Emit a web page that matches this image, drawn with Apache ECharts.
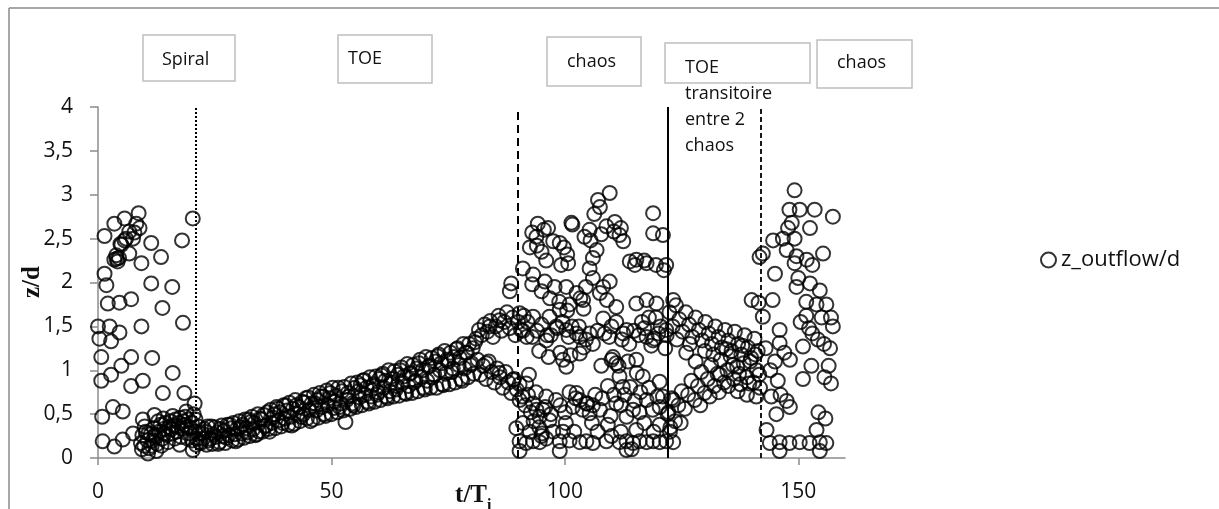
<!DOCTYPE html>
<html>
<head>
<meta charset="utf-8">
<script src="https://cdn.jsdelivr.net/npm/echarts@6.0.0/dist/echarts.min.js"></script>
<style>
  html, body { margin: 0; padding: 0; background: #fff; }
  #chart { width: 1219px; height: 509px; }
</style>
</head>
<body>
<div id="chart"></div>
<script>
// t/Ti , z/d
var spiralPts = [
  [8.7,2.79],[5.7,2.73],[3.5,2.67],[1.4,2.53],[8.2,2.67],[8.9,2.62],[6.7,2.58],[5.7,2.48],[7.5,2.5],[11.4,2.45],
  [5.0,2.43],[3.9,2.31],[3.5,2.26],[4.2,2.24],[4.5,2.28],[6.7,2.33],[9.3,2.22],[13.5,2.29],[18.0,2.48],[20.3,2.73],
  [4.0,2.27],[4.8,2.44],[6.0,2.5],[7.8,2.57],
  [1.4,2.1],[1.8,1.97],[11.4,1.99],[15.9,1.95],[7.1,1.81],[4.6,1.77],[2.1,1.76],[13.8,1.71],[18.2,1.54],[9.3,1.5],
  [0.0,1.5],[2.5,1.5],[4.6,1.43],[0.3,1.36],[2.8,1.33],[0.7,1.15],[7.1,1.15],[11.6,1.14],[5.0,1.05],[2.8,0.95],
  [0.7,0.88],[7.1,0.82],[9.6,0.88],[16.0,0.97],[13.9,0.74],[18.5,0.74],[3.2,0.58],[5.3,0.53],[0.9,0.47],[9.6,0.44],
  [12.1,0.49],[20.7,0.62],[1.0,0.19],[3.5,0.13],[5.3,0.21],[7.5,0.28],[10.7,0.05],[20.3,0.09],
  [9.2,0.17],[9.5,0.26],[9.9,0.14],[10.2,0.3],[10.6,0.2],[11.0,0.11],[11.3,0.27],[11.7,0.2],[12.0,0.34],[12.4,0.24],
  [12.7,0.16],[13.1,0.3],[13.4,0.38],[13.8,0.22],[14.1,0.33],[14.5,0.4],[14.8,0.26],[15.2,0.35],[15.5,0.42],[15.9,0.28],
  [16.2,0.37],[16.6,0.44],[16.9,0.3],[17.3,0.4],[17.6,0.46],[18.0,0.33],[18.3,0.42],[18.7,0.47],[19.0,0.35],[19.4,0.44],
  [19.7,0.28],[20.1,0.4],[20.5,0.5],[20.8,0.3],[21.2,0.22],[21.5,0.36],[21.8,0.18],
  [9.4,0.1],[10.0,0.36],[10.8,0.28],[11.5,0.14],[12.2,0.26],[12.9,0.42],[13.6,0.14],[14.3,0.28],[15.0,0.18],[15.7,0.33],
  [16.4,0.22],[17.1,0.36],[17.8,0.24],[18.5,0.38],[19.2,0.22],[19.9,0.34],[20.2,0.2],[20.9,0.44],[21.0,0.15],[21.6,0.28],
  [16.0,0.48],[18.9,0.53],[14.0,0.45],[12.5,0.08],[17.5,0.15]
];

var toeA = [
  [22,0.17],[23,0.30],[24,0.22],[25,0.35],[26,0.18],[27,0.31],[28,0.26],[29,0.40],[30,0.21],[31,0.38],
  [32,0.29],[33,0.47],[34,0.27],[35,0.44],[36,0.37],[37,0.55],[38,0.34],[39,0.52],[40,0.45],[41,0.63],
  [42,0.39],[43,0.58],[44,0.50],[45,0.69],[46,0.44],[47,0.66],[48,0.58],[49,0.77],[50,0.50],[51,0.71],
  [52,0.62],[53,0.41],[54,0.56],[55,0.80],[56,0.69],[57,0.89],[58,0.62],[59,0.84],[60,0.75],[61,0.96],
  [62,0.68],[63,0.90],[64,0.82],[65,1.03],[66,0.73],[67,0.97],[68,0.88],[69,1.12],[70,0.78],[71,1.05],
  [72,0.95],[73,1.18],[74,0.83],[75,1.10],[76,1.02],[77,1.25],[78,0.88],[79,1.20],[80,1.08]
];
var toeB = [
  [22.25,0.28],[23.25,0.15],[24.25,0.36],[25.25,0.24],[26.25,0.33],[27.25,0.17],[28.25,0.38],[29.25,0.27],[30.25,0.42],[31.25,0.23],
  [32.25,0.44],[33.25,0.33],[34.25,0.50],[35.25,0.30],[36.25,0.52],[37.25,0.40],[38.25,0.58],[39.25,0.36],[40.25,0.60],[41.25,0.47],
  [42.25,0.66],[43.25,0.42],[44.25,0.63],[45.25,0.55],[46.25,0.72],[47.25,0.46],[48.25,0.70],[49.25,0.60],[50.25,0.80],[51.25,0.52],
  [52.25,0.76],[53.25,0.66],[54.25,0.85],[55.25,0.58],[56.25,0.83],[57.25,0.72],[58.25,0.92],[59.25,0.64],[60.25,0.90],[61.25,0.80],
  [62.25,1.00],[63.25,0.70],[64.25,0.95],[65.25,0.86],[66.25,1.07],[67.25,0.74],[68.25,1.02],[69.25,0.92],[70.25,1.15],[71.25,0.80],
  [72.25,1.10],[73.25,1.00],[74.25,1.22],[75.25,0.84],[76.25,1.15],[77.25,1.06],[78.25,1.30],[79.25,0.92],[80.25,1.25]
];
var toeC = [
  [22.5,0.22],[23.5,0.36],[24.5,0.16],[25.5,0.29],[26.5,0.37],[27.5,0.23],[28.5,0.34],[29.5,0.19],[30.5,0.35],[31.5,0.44],
  [32.5,0.25],[33.5,0.40],[34.5,0.30],[35.5,0.49],[36.5,0.33],[37.5,0.46],[38.5,0.56],[39.5,0.40],[40.5,0.54],[41.5,0.37],
  [42.5,0.60],[43.5,0.47],[44.5,0.68],[45.5,0.42],[46.5,0.62],[47.5,0.74],[48.5,0.50],[49.5,0.68],[50.5,0.57],[51.5,0.80],
  [52.5,0.54],[53.5,0.74],[54.5,0.62],[55.5,0.86],[56.5,0.60],[57.5,0.80],[58.5,0.70],[59.5,0.93],[60.5,0.66],[61.5,0.88],
  [62.5,0.76],[63.5,0.99],[64.5,0.71],[65.5,0.93],[66.5,0.82],[67.5,1.06],[68.5,0.76],[69.5,1.00],[70.5,0.88],[71.5,1.14],
  [72.5,0.80],[73.5,1.08],[74.5,0.96],[75.5,1.20],[76.5,0.86],[77.5,1.14],[78.5,1.02],[79.5,1.30],[80.5,0.96]
];
var toeD = [
  [22.75,0.33],[23.75,0.20],[24.75,0.27],[25.75,0.16],[26.75,0.25],[27.75,0.38],[28.75,0.20],[29.75,0.33],[30.75,0.28],[31.75,0.34],
  [32.75,0.41],[33.75,0.26],[34.75,0.45],[35.75,0.36],[36.75,0.30],[37.75,0.50],[38.75,0.43],[39.75,0.60],[40.75,0.38],[41.75,0.56],
  [42.75,0.50],[43.75,0.64],[44.75,0.45],[45.75,0.62],[46.75,0.54],[47.75,0.70],[48.75,0.48],[49.75,0.74],[50.75,0.64],[51.75,0.58],
  [52.75,0.81],[53.75,0.70],[54.75,0.60],[55.75,0.76],[56.75,0.88],[57.75,0.64],[58.75,0.82],[59.75,0.72],[60.75,0.94],[61.75,0.70],
  [62.75,0.86],[63.75,0.78],[64.75,1.00],[65.75,0.74],[66.75,0.96],[67.75,0.86],[68.75,1.08],[69.75,0.80],[70.75,1.04],[71.75,0.92],
  [72.75,1.16],[73.75,0.84],[74.75,1.12],[75.75,0.98],[76.75,1.24],[77.75,0.90],[78.75,1.20],[79.75,1.06],[80.75,1.32]
];
var toeSplit = [
  [81.0,1.36],[81.6,1.46],[82.2,1.4],[82.8,1.52],[83.4,1.44],[84.0,1.56],[84.6,1.38],[85.2,1.5],[85.8,1.62],[86.4,1.45],
  [87.0,1.55],[87.6,1.66],[88.2,1.48],[88.8,1.6],[89.4,1.4],[90.0,1.55],[90.6,1.46],[91.2,1.62],[91.8,1.38],
  [81.3,1.12],[81.9,0.95],[82.5,1.05],[83.1,0.9],[83.7,1.1],[84.3,0.98],[84.9,0.86],[85.5,1.02],[86.1,0.92],[86.7,0.8],
  [87.3,0.98],[87.9,0.86],[88.5,0.74],[89.1,0.9],[89.7,0.78],[90.3,0.84],[90.9,0.7],[91.5,0.6],[92.1,0.72],[92.7,0.52],
  [93.3,0.42],[93.9,0.55],[94.5,0.35],[95.1,0.28]
];

var chaos1Pts = [
  [109.6,3.02],[107.1,2.94],[107.5,2.86],[118.9,2.79],[94.2,2.67],[101.4,2.68],[96.4,2.62],[105.3,2.6],[110.7,2.69],[108.9,2.64],
  [111.7,2.54],[93.9,2.52],[98.9,2.45],[118.9,2.56],[121.0,2.54],[95.0,2.35],[106.8,2.37],[106.0,2.28],[115.3,2.26],[117.5,2.22],
  [121.7,2.2],[100.7,2.22],[91.0,2.16],[105.3,2.16],[88.5,1.99],[88.2,1.9],[93.2,2.09],[95.7,2.01],[97.8,1.95],[100.3,1.95],
  [102.5,1.88],[103.9,1.8],[108.2,1.95],[109.6,2.01],[111.0,1.72],[115.3,1.76],[117.5,1.8],[119.6,1.76],[123.2,1.8],[98.9,1.69],
  [96.7,1.61],[93.2,1.61],[90.3,1.65],[86.0,1.57],[83.9,1.5],[98.2,1.5],[100.3,1.46],[103.2,1.38],[108.2,1.59],[110.0,1.5],
  [113.2,1.46],[117.5,1.38],[118.9,1.34],[121.7,1.46],[96.0,1.34],[105.3,1.42],[99.6,1.12],[100.3,1.04],[103.2,1.19],[110.3,1.15],
  [111.0,1.08],[115.3,1.12],[111.7,0.93],[112.4,0.81],[116.7,0.93],[120.3,0.87],
  [83.2,1.08],[86.0,0.97],[88.9,0.89],[91.7,0.85],[90.3,0.66],[93.2,0.62],[95.3,0.55],[96.7,0.43],[94.6,0.47],[91.0,0.4],
  [102.5,0.74],[103.2,0.66],[104.6,0.62],[101.7,0.58],[105.3,0.51],[111.0,0.62],[113.2,0.47],[114.6,0.55],[117.5,0.66],[120.3,0.58],
  [123.2,0.66],
  [90.3,0.19],[91.7,0.17],[93.2,0.19],[94.6,0.18],[98.9,0.19],[103.2,0.18],[104.6,0.19],[106.0,0.17],[108.9,0.19],[111.7,0.18],
  [113.2,0.19],[114.6,0.17],[116.0,0.19],[117.5,0.18],[118.9,0.19],[120.3,0.18],[121.7,0.19],[123.2,0.18],
  [90.3,0.08],[98.9,0.08],[113.2,0.09],[114.3,0.1],
  [89.6,0.34],[99.6,0.3],[109.2,0.38],[115.3,0.32],[120.3,0.38],
  [94.0,1.45],[96.2,1.4],[98.3,1.48],[100.8,1.38],[103.0,1.5],[94.5,1.22],[96.5,1.15],[99.0,1.2],[101.2,1.17],[104.0,1.26],
  [92.3,0.95],[93.8,0.75],[96.0,0.7],[98.1,0.66],[101.0,0.75],[102.3,0.68],[104.8,0.62],[106.5,0.72],[110.0,1.12],[111.5,1.05],
  [113.5,1.1],[115.4,0.97],[114.0,0.81],[119.2,1.36],[120.0,1.42],[118.5,1.28],[107.8,1.05],[106.0,1.3],[108.5,1.42],[112.2,1.35],
  [114.8,1.45],[116.5,1.55],[119.5,1.6],[121.5,1.25],[109.2,0.82],[112.8,0.72],[116.2,0.75],[118.0,0.8],[119.8,0.7],[107.5,0.55],
  [109.8,0.48],[112.0,0.3],[117.0,0.4],[100.2,0.4],[97.5,0.3],[96.0,0.22],[102.0,0.3],[105.8,0.4],
  [113.9,2.24],[115.0,2.2],[117.0,2.25],[119.5,2.2],[121.2,2.14],
  [106.3,2.78],[107.8,2.55],[110.5,2.58],[112.0,2.62],[105.5,2.48],[104.2,2.52],[112.5,2.47],
  [93.0,2.57],[95.5,2.6],[94.0,2.42],[97.5,2.47],[99.8,2.4],[101.6,2.66],[100.5,2.32],[99.2,2.2],[96.0,2.25],[92.5,2.4],
  [93.0,1.98],[95.0,1.9],[96.8,1.82],[98.8,1.78],[101.0,1.75],[103.3,1.82],[104.5,1.95],[106.0,2.05],[107.5,1.88],[109.0,1.8],
  [104.0,1.7],[100.5,1.68],
  [91.0,1.45],[92.0,1.55],[93.0,1.38],[95.0,1.52],[97.0,1.4],[99.5,1.55],[101.5,1.5],[102.5,1.42],[104.5,1.35],[107.0,1.45],
  [109.5,1.38],[111.0,1.55],[112.5,1.42],[113.8,1.3],[115.8,1.4],[117.0,1.48],[118.0,1.6],[120.5,1.5],[121.8,1.4],
  [95.8,0.58],[97.0,0.5],[99.0,0.6],[100.0,0.52],[103.8,0.55],[106.0,0.6],[108.0,0.68],[110.5,0.72],[112.0,0.6],[115.0,0.65],
  [116.0,0.52],[118.8,0.55],[121.0,0.7],[122.0,0.5],
  [92.5,0.3],[95.0,0.25],[101.0,0.2],[107.0,0.3],[110.0,0.25],[119.0,0.3],[122.5,0.3]
];

var transPts = [
  [122.4,1.66],[123.1,1.5],[123.8,1.74],[124.5,1.58],[125.2,1.44],[125.9,1.66],[126.6,1.52],[127.3,1.38],[128.0,1.6],[128.7,1.46],
  [129.4,1.34],[130.1,1.55],[130.8,1.42],[131.5,1.3],[132.2,1.5],[132.9,1.38],[133.6,1.26],[134.3,1.46],[135.0,1.34],[135.7,1.22],
  [136.4,1.44],[137.1,1.3],[137.8,1.18],[138.5,1.4],[139.2,1.26],[139.9,1.14],[140.6,1.36],[141.3,1.22],
  [122.2,0.52],[122.9,0.68],[123.6,0.42],[124.3,0.6],[125.0,0.76],[125.7,0.56],[126.4,0.72],[127.1,0.88],[127.8,0.66],[128.5,0.82],
  [129.2,0.98],[129.9,0.74],[130.6,0.9],[131.3,1.06],[132.0,0.82],[132.7,0.96],[133.4,1.12],[134.1,0.86],[134.8,1.0],[135.5,1.16],
  [136.2,0.9],[136.9,1.04],[137.6,0.84],[138.3,1.08],[139.0,0.92],[139.7,1.1],[140.4,0.86],[141.1,1.0],[141.8,0.8],
  [126.0,1.2],[128.0,1.1],[130.0,1.22],[131.8,1.18],[133.2,0.95],[134.6,1.24],[136.0,1.06],[137.3,0.96],[138.0,1.28],[139.5,0.85],
  [140.8,1.18],[141.6,0.95],[129.0,0.6],[131.0,0.7],[133.0,0.75],[135.0,0.82],[137.0,0.76],[139.0,0.72],[141.0,0.7],[124.0,1.35],
  [126.8,1.3],[122.6,0.35],[124.8,0.4]
];

var chaos2Pts = [
  [140.0,1.8],[141.5,1.77],[144.5,1.8],[142.4,1.61],[146.0,1.46],[141.7,2.29],[142.4,2.33],[144.6,2.48],[145.0,2.1],[149.2,3.05],
  [148.1,2.83],[150.3,2.83],[153.5,2.83],[157.4,2.75],[147.8,2.62],[148.6,2.68],[152.5,2.62],[146.7,2.5],[149.2,2.5],[147.5,2.37],
  [149.6,2.3],[151.8,2.26],[155.3,2.33],[149.2,2.22],[149.6,1.95],[152.5,1.99],[154.6,1.91],[151.7,1.78],[153.9,1.75],[156.0,1.75],
  [157.0,1.6],[157.4,1.5],[151.7,1.62],[152.3,1.48],[153.0,1.42],[154.2,1.35],[155.5,1.3],[156.8,1.25],[151.0,1.27],[146.0,1.31],
  [147.0,1.2],[148.2,1.12],[151.0,0.9],[155.6,0.92],[157.0,0.85],[144.0,1.0],[145.0,1.1],[145.6,0.88],[146.2,0.72],[147.5,0.65],
  [148.2,0.58],[145.3,0.5],[154.3,0.52],[155.8,0.45],[153.9,0.32],[143.2,0.32],
  [143.9,0.17],[146.0,0.18],[148.1,0.17],[150.3,0.18],[152.4,0.17],[154.6,0.18],[156.0,0.17],[146.0,0.08],[154.6,0.08],
  [143.0,1.25],[144.2,0.7],[150.5,1.55],[152.8,1.05],[155.0,1.6],[156.5,1.05],[150.0,2.05],[153.0,2.2]
];

var xTicks = [0, 50, 100, 150];
var regimeLimits = [21, 90, 122, 142];
var regimeDash = [[2, 2], [8, 5], 'solid', [5, 3]];
var regimeWidth = [2, 2, 2, 1.8];

var allPts = spiralPts.concat(toeA, toeB, toeC, toeD, toeSplit, chaos1Pts, transPts, chaos2Pts);

var chart = echarts.init(document.getElementById('chart'), null, { renderer: 'canvas' });

var lbl = { fontFamily: 'Open Sans', fontSize: 21, color: '#111' };
var boxText = { fontFamily: 'Open Sans', fontSize: 18, fill: '#111' };

function box(x, y, w, h) {
  return { type: 'rect', shape: { x: x, y: y, width: w, height: h },
    style: { fill: '#fff', stroke: '#bfbfbf', lineWidth: 1.5 }, z: 10 };
}
function txt(s, x, y) {
  return { type: 'text', x: x, y: y, z: 11,
    style: Object.assign({ text: s, verticalAlign: 'middle' }, boxText) };
}

chart.setOption({
  animation: false,
  backgroundColor: '#fff',
  grid: { left: 98, top: 107, width: 747, height: 351, outerBoundsMode: 'none' },
  legend: {
    data: ['z_outflow/d'],
    left: 1040, top: 249, padding: 0,
    itemWidth: 15, itemHeight: 15,
    textStyle: { fontFamily: 'Open Sans', fontSize: 22, color: '#111' }
  },
  xAxis: {
    type: 'value', min: 0, max: 160, interval: 50,
    splitLine: { show: false },
    axisLine: { lineStyle: { color: '#8c8c8c', width: 1.5 } },
    axisTick: { customValues: xTicks, length: 7, lineStyle: { color: '#8c8c8c', width: 1.5 } },
    axisLabel: Object.assign({ customValues: xTicks, margin: 24 }, lbl)
  },
  yAxis: {
    type: 'value', min: 0, max: 4, interval: 0.5,
    splitLine: { show: false },
    axisLine: { show: true, lineStyle: { color: '#8c8c8c', width: 1.5 } },
    axisTick: { show: true, length: 8, lineStyle: { color: '#8c8c8c', width: 1.5 } },
    axisLabel: Object.assign({ margin: 25, formatter: function (v) { return String(v).replace('.', ','); } }, lbl)
  },
  series: [{
    name: 'z_outflow/d',
    type: 'scatter',
    symbol: 'circle',
    symbolSize: 14,
    itemStyle: { color: 'rgba(0,0,0,0)', borderColor: '#000', borderWidth: 2 },
    emphasis: { disabled: true },
    data: allPts,
    markLine: {
      silent: true,
      symbol: ['none', 'none'],
      label: { show: false },
      data: regimeLimits.map(function (v, i) {
        return { xAxis: v, lineStyle: { color: '#000', type: regimeDash[i], width: regimeWidth[i] } };
      })
    }
  }],
  graphic: [
    { type: 'line', shape: { x1: 9, y1: 8, x2: 1219, y2: 8 }, style: { stroke: '#8a8a8a', lineWidth: 1.5 } },
    { type: 'line', shape: { x1: 9, y1: 8, x2: 9, y2: 509 }, style: { stroke: '#8a8a8a', lineWidth: 1.5 } },
    box(143, 35, 92, 46), txt('Spiral', 162, 60),
    box(338, 35, 94, 48), txt('TOE', 348, 59),
    box(547, 37, 94, 49), txt('chaos', 567, 62),
    box(665, 43, 145, 40), txt('TOE', 685, 68), txt('transitoire', 685, 94), txt('entre 2', 685, 120), txt('chaos', 685, 146),
    box(817, 40, 95, 48), txt('chaos', 837, 63),
    { type: 'text', x: 33, y: 282, rotation: Math.PI / 2,
      style: { text: 'z/d', fontFamily: 'Liberation Serif', fontWeight: 'bold', fontSize: 25, fill: '#111', align: 'center', verticalAlign: 'middle' } },
    { type: 'text', x: 487, y: 496,
      style: { text: 't/T', fontFamily: 'Liberation Serif', fontWeight: 'bold', fontSize: 25, fill: '#111', align: 'right', verticalAlign: 'middle' } },
    { type: 'text', x: 487, y: 506,
      style: { text: 'i', fontFamily: 'Liberation Serif', fontWeight: 'bold', fontSize: 16, fill: '#111', align: 'left', verticalAlign: 'middle' } }
  ]
});
</script>
</body>
</html>
